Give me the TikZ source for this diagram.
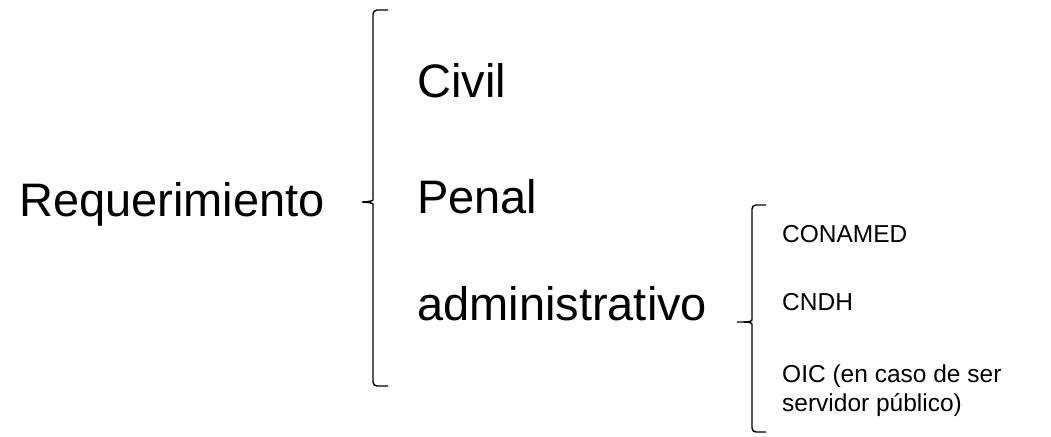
\documentclass[tikz,border=0pt]{standalone}
\usepackage{fontspec}
\setmainfont{Liberation Sans}
\usetikzlibrary{positioning}

\tikzset{
  big/.style={anchor=base west, inner sep=0pt, font=\fontsize{47}{56}\selectfont},
  small/.style={anchor=base west, inner sep=0pt, font=\fontsize{24.5}{29}\selectfont, align=left},
  brace/.style={line width=1.4pt, rounded corners=4pt}
}

\begin{document}
\begin{tikzpicture}[x=1pt, y=-1pt]
    \useasboundingbox (0, 0) rectangle (1051, 436);

    % Main term
    \node [big] (req) at (19, 216) {Requerimiento};

    % First brace
    \coordinate (b1top) at (388, 10);
    \coordinate (b1tip) at (362, 202);
    \coordinate (b1bot) at (388, 386);
    \draw [brace] (b1top) -- (373, 10) -- (373, 196)
          to [out=-90, in=0] (b1tip)
          (b1tip) to [out=0, in=90] (373, 208) -- (373, 386) -- (b1bot);

    % Kinds
    \node [big] (civil) at (417, 97) {Civil};
    \node [big] (penal) at (417, 213) {Penal};
    \node [big] (admin) at (417, 320) {administrativo};

    % Second brace
    \coordinate (b2top) at (766, 205);
    \coordinate (b2tip) at (737, 322);
    \coordinate (b2bot) at (766, 432);
    \draw [brace] (b2top) -- (752, 205) -- (752, 316)
          to [out=-90, in=0] (b2tip)
          (b2tip) to [out=0, in=90] (752, 328) -- (752, 432) -- (b2bot);

    % Instances
    \node [small] (conamed) at (782, 242) {CONAMED};
    \node [small] (cndh) at (782, 310) {CNDH};
    \node [small] (oic) at (782, 411) {OIC (en caso de ser\\servidor público)};

\end{tikzpicture}
\end{document}
